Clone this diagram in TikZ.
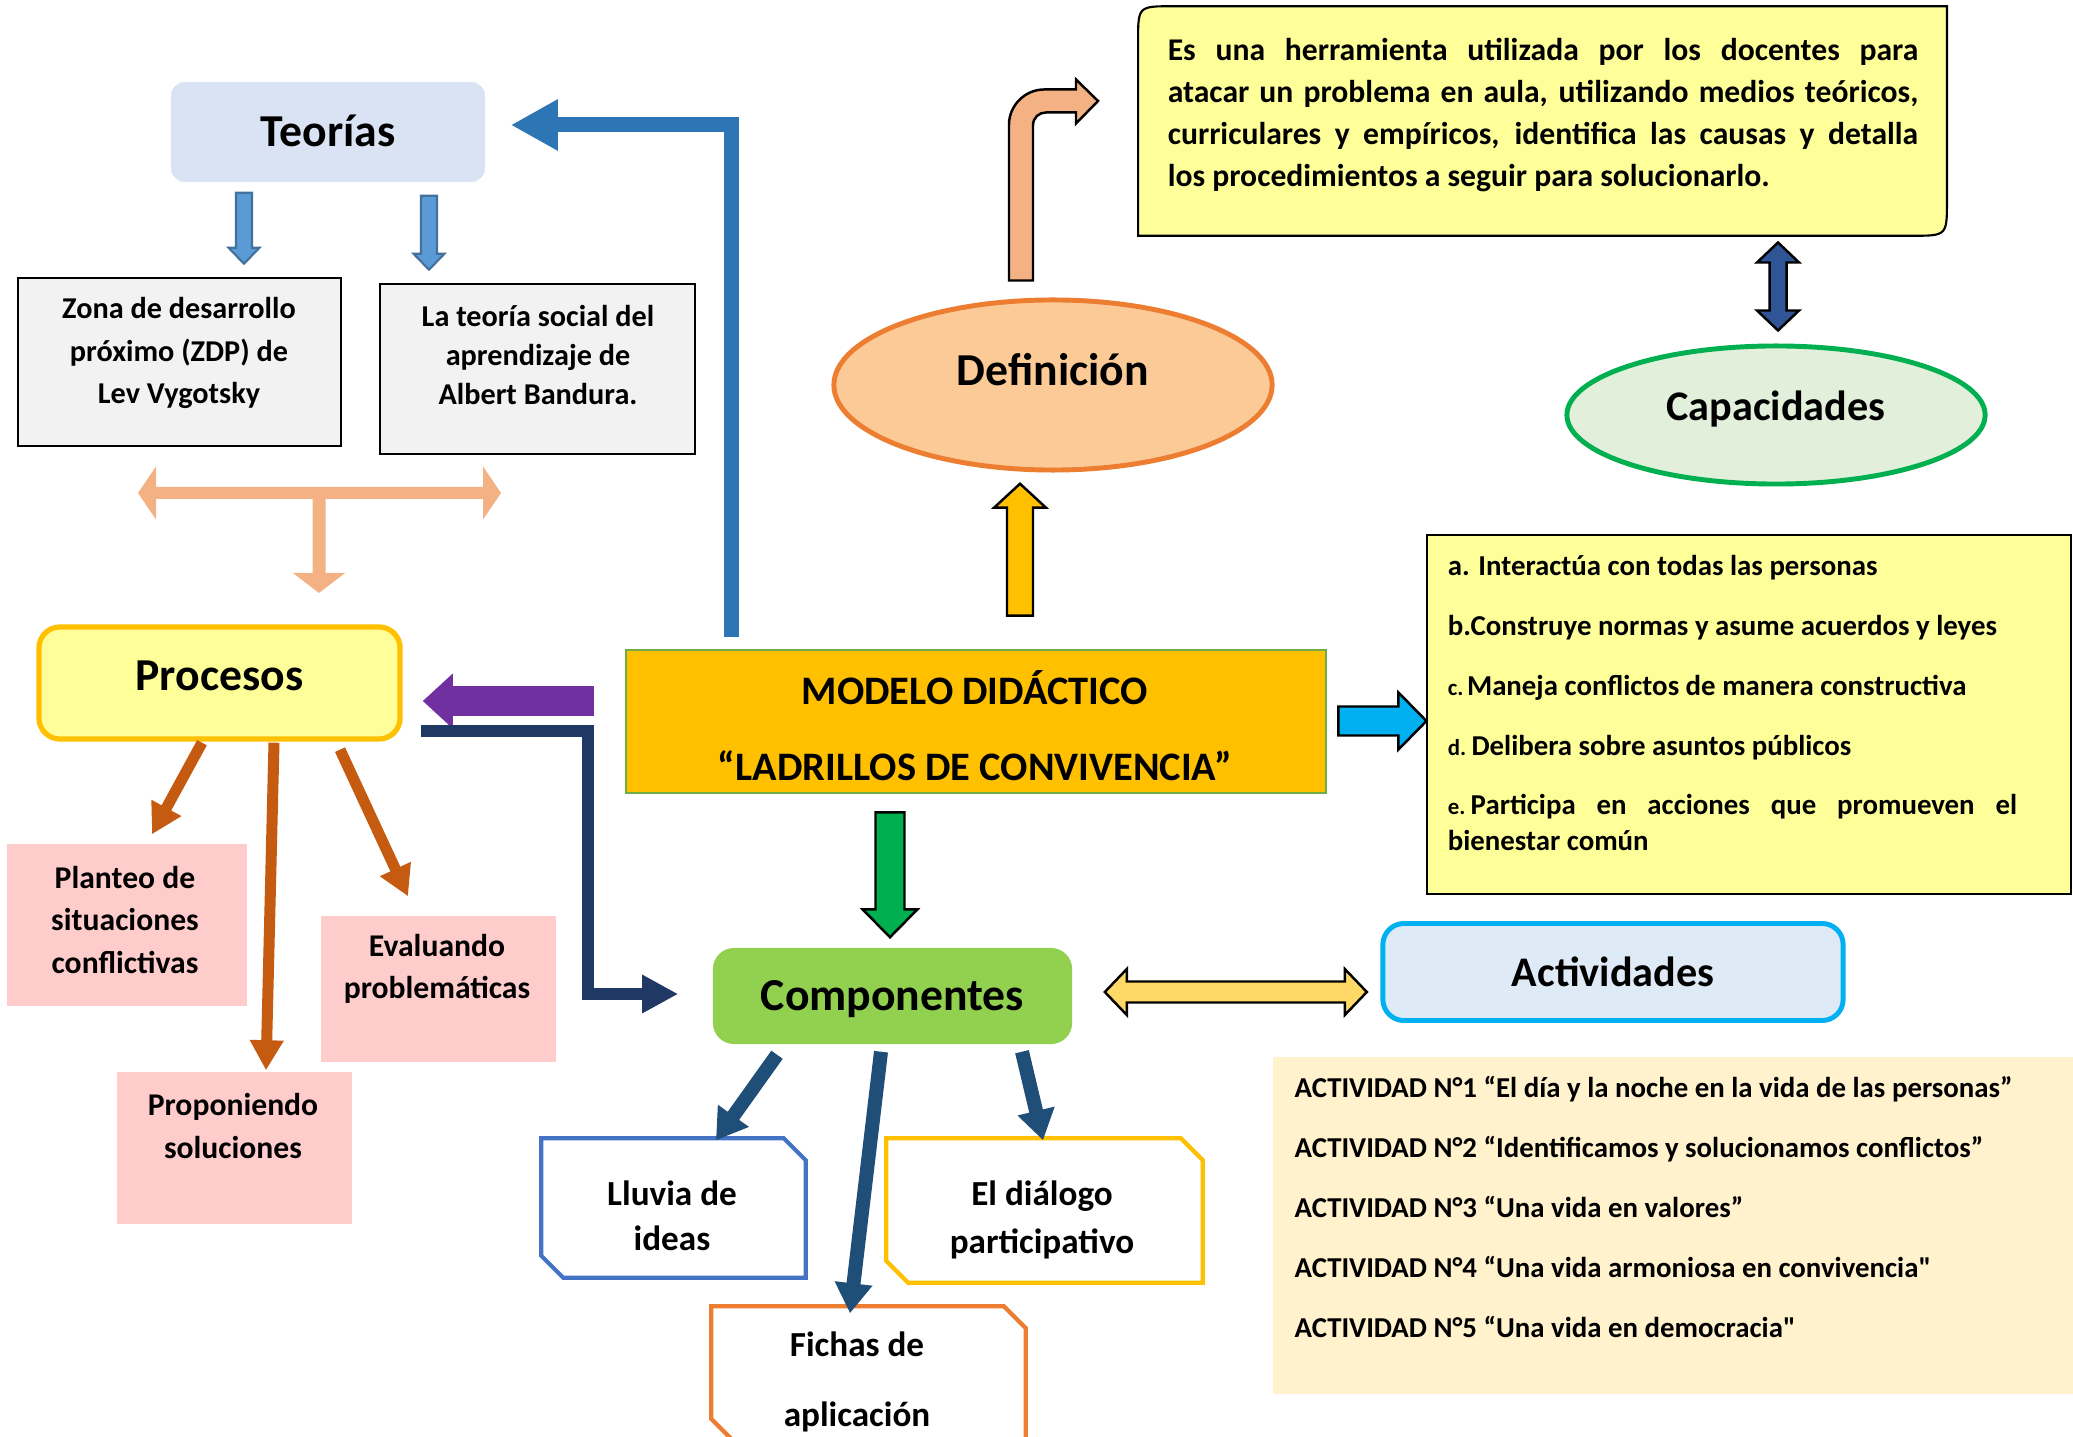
\documentclass[tikz,border=0pt]{standalone}
\usepackage{fontspec}
\setmainfont{Carlito}[Ligatures=TeXOff]
\usetikzlibrary{calc,arrows.meta,shapes.geometric}

\definecolor{teolav}{HTML}{DAE3F3}
\definecolor{boxgray}{HTML}{F2F2F2}
\definecolor{peachline}{HTML}{F4B183}
\definecolor{arrowblue}{HTML}{5B9BD5}
\definecolor{arrowblueline}{HTML}{41719C}
\definecolor{elbowblue}{HTML}{2E75B6}
\definecolor{procyellow}{HTML}{FFFF99}
\definecolor{procgold}{HTML}{FFC000}
\definecolor{violet}{HTML}{7030A0}
\definecolor{navyelbow}{HTML}{203864}
\definecolor{rust}{HTML}{C55A11}
\definecolor{pinkfill}{HTML}{FFCCCC}
\definecolor{modeloamber}{HTML}{FFC000}
\definecolor{modelogreen}{HTML}{70AD47}
\definecolor{arrowgreen}{HTML}{00B050}
\definecolor{compgreen}{HTML}{92D050}
\definecolor{defpeach}{HTML}{FBCA96}
\definecolor{deforange}{HTML}{ED7D31}
\definecolor{capgreen}{HTML}{E2EFDA}
\definecolor{navydouble}{HTML}{2F5597}
\definecolor{cyanarrow}{HTML}{00B0F0}
\definecolor{actblue}{HTML}{DEEBF7}
\definecolor{actcream}{HTML}{FFF2CC}
\definecolor{sandarrow}{HTML}{FFD966}
\definecolor{comparrow}{HTML}{1F4E79}
\definecolor{lluviablue}{HTML}{4472C4}

\begin{document}
\begin{tikzpicture}
    [x=0.01cm, y=-0.01cm,
    every node/.style={inner sep=0pt},
    title/.style={rectangle, rounded corners=4pt, text height=8.5pt, text depth=0pt,
      font=\fontsize{13}{15}\selectfont\bfseries},
    titletxt/.style={text height=8.5pt, text depth=0pt, font=\fontsize{13}{15}\selectfont\bfseries},
    txt/.style={align=center, font=\fontsize{8.6}{12}\selectfont\bfseries},
    pinktxt/.style={align=center, font=\fontsize{9}{12}\selectfont\bfseries},
    comptxt/.style={align=center, font=\fontsize{10}{12.8}\selectfont\bfseries},
    graybox/.style={draw=black, line width=0.6pt, fill=boxgray},
    pinkbox/.style={fill=pinkfill},
    cutline/.style={line width=1.2pt, fill=white},
    fat/.style={draw=black, line width=0.7pt},
    ]
    \fill[white] (0,0) rectangle (2073,1437);
    \useasboundingbox (0,0) rectangle (2073,1437);

    % left side
    \node[title, fill=teolav, minimum width=3.14cm, minimum height=1cm] (teorias) at (328,132) {Teorías};
    \node[graybox, minimum width=3.23cm, minimum height=1.68cm] (zona) at (179.5,362) {};
    \node[txt] (zonatxt) at (179,353) {Zona de desarrollo\\próximo (ZDP) de\\Lev Vygotsky};
    \node[graybox, minimum width=3.15cm, minimum height=1.70cm] (bandura) at (537.5,369) {};
    \node[txt, font=\fontsize{8.6}{11.2}\selectfont\bfseries] (banduratxt) at (538,355) {La teoría social del\\aprendizaje de\\Albert Bandura.};
    \node[rectangle, fill=procyellow, draw=procgold, line width=1.5pt, rounded corners=6pt,
      minimum width=3.61cm, minimum height=1.12cm] (procesos) at (219.5,683) {};
    \node[titletxt] (procesostxt) at (219.5,676) {Procesos};
    \node[pinkbox, minimum width=2.40cm, minimum height=1.62cm] (planteo) at (127,925) {};
    \node[pinktxt] (planteotxt) at (125,920) {Planteo de\\situaciones\\conflictivas};
    \node[pinkbox, minimum width=2.35cm, minimum height=1.46cm] (evaluando) at (438.5,989) {};
    \node[pinktxt] (evaluandotxt) at (437,969) {Evaluando\\problemáticas};
    \node[pinkbox, minimum width=2.35cm, minimum height=1.52cm] (proponiendo) at (234.5,1148) {};
    \node[pinktxt] (proponiendotxt) at (233,1126) {Proponiendo\\soluciones};

    % centre
    \node[fill=modeloamber, draw=modelogreen, line width=0.7pt, minimum width=7.00cm, minimum height=1.43cm] (modelo) at (976,721.5) {};
    \node[align=center, font=\fontsize{11.5}{21.6}\selectfont\bfseries] (modelotxt) at (975,726) {MODELO DIDÁCTICO\\“LADRILLOS DE CONVIVENCIA”};
    \node[ellipse, fill=defpeach, draw=deforange, line width=1.4pt, minimum width=4.38cm, minimum height=1.70cm] (definicion) at (1053,385) {};
    \node[titletxt] (definiciontxt) at (1053,371) {Definición};
    \node[title, fill=compgreen, rounded corners=6pt, minimum width=3.59cm, minimum height=0.96cm] (componentes) at (892.5,996) {Componentes};

    % right side
    \node[minimum width=8.07cm, minimum height=2.28cm] (defn) at (1542.5,121) {};
    \draw[fill=procyellow, draw=black, line width=0.6pt] (defn.south west) -- ([yshift=-0.35cm]defn.north west)
      .. controls (defn.north west) .. ([xshift=0.35cm]defn.north west) -- (defn.north east)
      -- ([yshift=0.35cm]defn.south east) .. controls (defn.south east) .. ([xshift=-0.35cm]defn.south east) -- cycle;
    \node[text width=7.5cm, align=justify, font=\fontsize{9}{12}\selectfont\bfseries] (defntxt) at (1543,115)
      {Es una herramienta utilizada por los docentes para\linebreak atacar un problema en aula, utilizando medios teóricos,\linebreak curriculares y empíricos, identifica las causas y detalla\linebreak los procedimientos a seguir para solucionarlo.};
    \node[ellipse, fill=capgreen, draw=arrowgreen, line width=1.4pt, minimum width=4.18cm, minimum height=1.38cm] (capacidades) at (1776,415) {};
    \node[titletxt, font=\fontsize{12}{14}\selectfont\bfseries, text height=8pt] (capacidadestxt) at (1776,406) {Capacidades};
    \node[fill=procyellow, draw=black, line width=0.6pt, minimum width=6.44cm, minimum height=3.59cm] (caplist) at (1749,714.5) {};
    \node[text width=5.69cm, align=justify, font=\fontsize{8.2}{10}\selectfont\bfseries] (caplisttxt) at (1732.5,703)
      {a. Interactúa con todas las personas\\[7pt]
       b.Construye normas y asume acuerdos y leyes\\[7pt]
       {\fontsize{6.5}{10}\selectfont c.}\kern1pt Maneja conflictos de manera constructiva\\[7pt]
       {\fontsize{6.5}{10}\selectfont d.}\kern1.5pt Delibera sobre asuntos públicos\\[7pt]
       {\fontsize{6.5}{10}\selectfont e.}\kern1.5pt Participa en acciones que promueven el\linebreak bienestar común};
    \node[title, fill=actblue, draw=cyanarrow, line width=1.4pt, rounded corners=6pt, minimum width=4.60cm, minimum height=0.97cm,
      font=\fontsize{12}{14}\selectfont\bfseries] (actividades) at (1613,972) {Actividades};
    \node[fill=actcream, minimum width=8.00cm, minimum height=3.37cm] (actlist) at (1673,1225.5) {};
    \node[anchor=west, align=left, font=\fontsize{8.2}{17}\selectfont\bfseries] (actlisttxt) at (1294,1207)
      {ACTIVIDAD N°1 “El día y la noche en la vida de las personas”\\
       ACTIVIDAD N°2 “Identificamos y solucionamos conflictos”\\
       ACTIVIDAD N°3 “Una vida en valores”\\
       ACTIVIDAD N°4 “Una vida armoniosa en convivencia"\\
       ACTIVIDAD N°5 “Una vida en democracia"};

    % bottom boxes
    \node[minimum width=2.63cm, minimum height=1.38cm] (lluvia) at (673.5,1208) {};
    \draw[cutline, draw=lluviablue] (lluvia.north west) -- ([xshift=-0.22cm]lluvia.north east) -- ([yshift=-0.22cm]lluvia.north east)
      -- (lluvia.south east) -- ([xshift=0.22cm]lluvia.south west) -- ([yshift=0.22cm]lluvia.south west) -- cycle;
    \node[comptxt] (lluviatxt) at (672,1216) {Lluvia de\\ideas};
    \node[minimum width=3.15cm, minimum height=1.43cm] (dialogo) at (1044.5,1210.5) {};
    \draw[cutline, draw=procgold] (dialogo.north west) -- ([xshift=-0.22cm]dialogo.north east) -- ([yshift=-0.22cm]dialogo.north east)
      -- (dialogo.south east) -- ([xshift=0.22cm]dialogo.south west) -- ([yshift=0.22cm]dialogo.south west) -- cycle;
    \node[comptxt, font=\fontsize{10}{13.7}\selectfont\bfseries] (dialogotxt) at (1042,1220) {El diálogo\\participativo};
    \node[minimum width=3.13cm, minimum height=1.33cm] (fichas) at (868.5,1373.5) {};
    \draw[cutline, draw=deforange] (fichas.north west) -- ([xshift=-0.22cm]fichas.north east) -- ([yshift=-0.22cm]fichas.north east)
      -- (fichas.south east) -- ([xshift=0.22cm]fichas.south west) -- ([yshift=0.22cm]fichas.south west) -- cycle;
    \node[comptxt, font=\fontsize{10}{20}\selectfont\bfseries] (fichastxt) at (857,1382) {Fichas de\\aplicación};

    % arrows
    \draw[fill=arrowblue, draw=arrowblueline, line width=0.6pt] ($(teorias.south)+(-92,10)$) -- ++(16,0) -- ++(0,55) -- ++(7.5,0) -- ++(-15.5,16) -- ++(-15.5,-16) -- ++(7.5,0) -- cycle;
    \draw[fill=arrowblue, draw=arrowblueline, line width=0.6pt] ($(teorias.south)+(93,13)$) -- ++(16,0) -- ++(0,58) -- ++(7.5,0) -- ++(-15.5,16) -- ++(-15.5,-16) -- ++(7.5,0) -- cycle;
    \coordinate (tjoin) at (319,493);
    \fill[peachline] ($(tjoin)+(-181,0)$) -- ++(18,-26.5) -- ++(0,20.5) -- ++(327,0) -- ++(0,-20.5) -- ++(18,26.5) -- ++(-18,26.5) -- ++(0,-20.5)
      -- ++(-157.5,0) -- ++(0,74) -- ++(19.5,0) -- ++(-26,20) -- ++(-26,-20) -- ++(19.5,0) -- ++(0,-74) -- ++(-156.5,0) -- ++(0,20.5) -- cycle;
    \draw[elbowblue, line width=0.15cm, -{Triangle[length=0.47cm, width=0.48cm]}] ($(modelo.north west)+(107,-12)$) |- ($(teorias.east)+(25,-7)$);
    \draw[violet, line width=0.30cm, -{Triangle[length=0.30cm, width=0.53cm]}] ($(modelo.west)+(-31,-20.5)$) -- ($(procesos.east)+(20,18)$);
    \draw[navyelbow, line width=0.12cm, -{Triangle[length=0.36cm, width=0.36cm]}] ($(procesos.east)+(18,48)$) -- ++(167,0) |- ($(componentes.west)+(-34,-2)$);
    \draw[rust, line width=0.11cm, -{Triangle[length=0.30cm, width=0.32cm]}] ($(procesos.south)+(-17.5,1)$) -- ($(planteo.north)+(25,-9)$);
    \draw[rust, line width=0.11cm, -{Triangle[length=0.30cm, width=0.32cm]}] ($(procesos.south)+(54.5,1)$) -- ($(proponiendo.north)+(31.5,-1)$);
    \draw[rust, line width=0.11cm, -{Triangle[length=0.30cm, width=0.32cm]}] ($(procesos.south)+(120.5,8)$) -- ($(evaluando.north)+(-30.5,-19)$);
    \draw[fat, fill=arrowgreen] ($(modelo.south)+(-100.5,18)$) -- ++(29,0) -- ++(0,97) -- ++(13,0) -- ++(-27.5,28) -- ++(-27.5,-28) -- ++(13,0) -- cycle;
    \draw[fat, fill=modeloamber] ($(modelo.north)+(31,-33)$) -- ++(26,0) -- ++(0,-108) -- ++(13,0) -- ++(-26,-24) -- ++(-26,24) -- ++(13,0) -- cycle;
    \draw[fat, fill=peachline] ($(definicion.north)+(-44,-17)$) -- ++(0,-156) .. controls +(0,-19) and +(-19,0) .. ++(35,-35) -- ++(32,0) -- ++(0,-10)
      -- ++(22,21.5) -- ++(-22,22.5) -- ++(0,-11) -- ++(-30,0) .. controls +(-7,0) and +(0,-8) .. ++(-13,13) -- ++(0,155) -- cycle;
    \draw[fat, fill=navydouble] ($(capacidades.north)+(2,-101)$) -- ++(21,20) -- ++(-12.5,0) -- ++(0,48) -- ++(12.5,0) -- ++(-21,20) -- ++(-21,-20)
      -- ++(12.5,0) -- ++(0,-48) -- ++(-12.5,0) -- cycle;
    \draw[fat, fill=cyanarrow] ($(modelo.east)+(11,-15)$) -- ++(60,0) -- ++(0,-14) -- ++(28,28.5) -- ++(-28,28.5) -- ++(0,-14) -- ++(-60,0) -- cycle;
    \draw[fat, fill=sandarrow] ($(componentes.east)+(32,-4)$) -- ++(22,-23) -- ++(0,12.5) -- ++(218,0) -- ++(0,-12.5) -- ++(22,23) -- ++(-22,23)
      -- ++(0,-12.5) -- ++(-218,0) -- ++(0,12.5) -- cycle;
    \draw[comparrow, line width=0.14cm, -{Triangle[length=0.30cm, width=0.36cm]}] ($(componentes.south)+(-115.5,10)$) -- ($(lluvia.north)+(42.5,2)$);
    \draw[comparrow, line width=0.14cm, -{Triangle[length=0.30cm, width=0.36cm]}] ($(componentes.south)+(-11.5,7)$) -- ($(fichas.north)+(-18.5,7)$);
    \draw[comparrow, line width=0.14cm, -{Triangle[length=0.30cm, width=0.36cm]}] ($(componentes.south)+(129.5,7)$) -- ($(dialogo.north)+(-1.5,2)$);
  \end{tikzpicture}
\end{document}
